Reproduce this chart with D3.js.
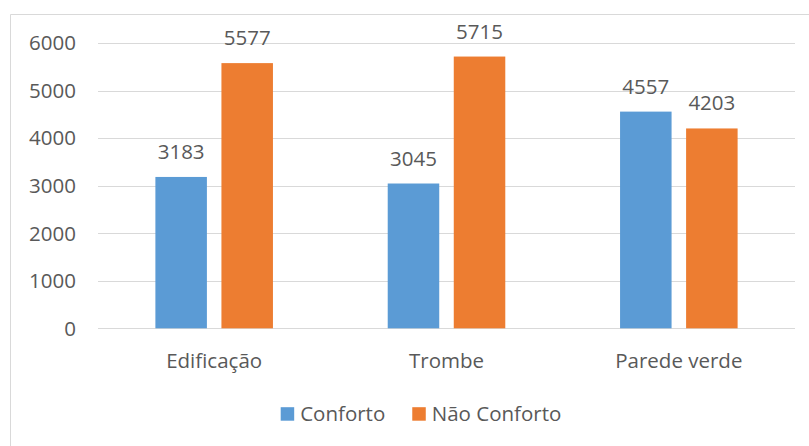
<!DOCTYPE html>
<html lang="en">
<head>
  <meta charset="UTF-8">
  <title>Conforto vs Não Conforto</title>
  <script src="https://d3js.org/d3.v7.min.js"></script>
  <style>
    body {
      margin: 0;
      padding: 0;
      background: #ffffff;
    }
    svg text {
      font-family: "Open Sans", sans-serif;
      fill: #595959;
    }
  </style>
</head>
<body>
  <script>
    // data
    const categories = ["Edificação", "Trombe", "Parede verde"];
    const series = ["Conforto", "Não Conforto"];
    const conforto = [3183, 3045, 4557];
    const naoConforto = [5577, 5715, 4203];
    const yTicks = [0, 1000, 2000, 3000, 4000, 5000, 6000];
    const colors = ["#5b9bd5", "#ed7d31"];

    const width = 809;
    const height = 446;
    const fontSize = 20.5;

    const rows = categories.map((c, i) => ({ cat: c, values: [conforto[i], naoConforto[i]] }));

    const svg = d3.create("svg")
        .attr("width", width)
        .attr("height", height)
        .attr("viewBox", [0, 0, width, height]);

    // chart frame (right and bottom edges run off the picture)
    svg.append("path")
        .attr("d", "M10.5,446 L10.5,14.5 L809,14.5")
        .attr("fill", "none")
        .attr("stroke", "#d9d9d9")
        .attr("stroke-width", 1);

    const plotLeft = 98, plotRight = 795;

    const y = d3.scaleLinear()
        .domain([0, 6000])
        .range([328.3, 43]);

    const x0 = d3.scaleBand()
        .domain(categories)
        .range([plotLeft, plotRight])
        .paddingInner(0.494)
        .paddingOuter(0.247);

    const x1 = d3.scaleBand()
        .domain(series)
        .range([0, x0.bandwidth()])
        .paddingInner(0.22);

    // gridlines
    svg.append("g")
        .selectAll("line")
        .data(yTicks)
        .join("line")
          .attr("x1", plotLeft)
          .attr("x2", plotRight)
          .attr("y1", d => Math.round(y(d)) + 0.5)
          .attr("y2", d => Math.round(y(d)) + 0.5)
          .attr("stroke", "#d9d9d9")
          .attr("stroke-width", 1.2);

    // y tick labels
    svg.append("g")
        .selectAll("text")
        .data(yTicks)
        .join("text")
          .attr("x", 76)
          .attr("y", d => y(d))
          .attr("dy", "0.36em")
          .attr("text-anchor", "end")
          .attr("font-size", fontSize)
          .text(d => d);

    // bars
    const groups = svg.append("g")
      .selectAll("g")
      .data(rows)
      .join("g")
        .attr("transform", d => `translate(${x0(d.cat)},0)`);

    groups.selectAll("rect")
      .data(d => d.values.map((v, i) => ({ key: series[i], value: v, i })))
      .join("rect")
        .attr("x", d => x1(d.key))
        .attr("y", d => y(d.value))
        .attr("width", x1.bandwidth())
        .attr("height", d => y(0) - y(d.value))
        .attr("fill", d => colors[d.i]);

    groups.selectAll("text")
      .data(d => d.values.map((v, i) => ({ key: series[i], value: v })))
      .join("text")
        .attr("x", d => x1(d.key) + x1.bandwidth() / 2)
        .attr("y", d => y(d.value) - 18)
        .attr("text-anchor", "middle")
        .attr("font-size", fontSize)
        .text(d => d.value);

    // category labels
    svg.append("g")
      .selectAll("text")
      .data(categories)
      .join("text")
        .attr("x", d => x0(d) + x0.bandwidth() / 2)
        .attr("y", 368)
        .attr("text-anchor", "middle")
        .attr("font-size", fontSize)
        .text(d => d);

    // legend
    const legend = svg.append("g");
    const sw = 13.5;
    let cursor = 0;
    series.forEach((s, i) => {
      const item = legend.append("g").attr("transform", `translate(${cursor},0)`);
      item.append("rect")
          .attr("x", 0)
          .attr("y", -13.5)
          .attr("width", sw)
          .attr("height", sw)
          .attr("fill", colors[i]);
      const t = item.append("text")
          .attr("x", sw + 6)
          .attr("y", 0)
          .attr("font-size", fontSize)
          .text(s);
      document.body.appendChild(svg.node());
      cursor += sw + 6 + t.node().getComputedTextLength() + 27;
    });
    const legendWidth = cursor - 27;
    legend.attr("transform", `translate(${421 - legendWidth / 2},420.7)`);

    document.body.appendChild(svg.node());
  </script>
</body>
</html>
